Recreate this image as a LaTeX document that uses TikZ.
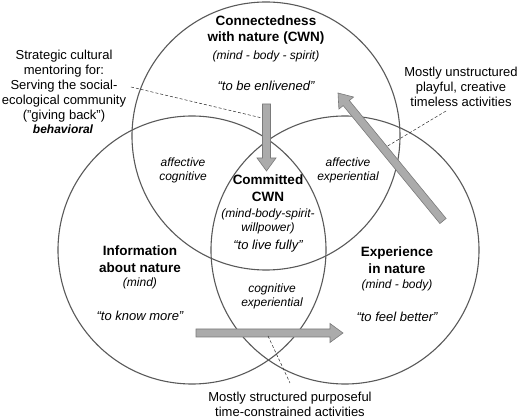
\documentclass[tikz,border=0pt]{standalone}
\usepackage{fontspec}
\setmainfont{Liberation Sans}
\usetikzlibrary{calc}
\newcommand\blkarrow[2]{%
  \filldraw[blk] ($(#1)!4pt!90:(#2)$) -- ($($(#2)!13pt!(#1)$)!4pt!-90:(#1)$)
    -- ($($(#2)!13pt!(#1)$)!9.5pt!-90:(#1)$) -- (#2)
    -- ($($(#2)!13pt!(#1)$)!9.5pt!90:(#1)$) -- ($($(#2)!13pt!(#1)$)!4pt!90:(#1)$)
    -- ($(#1)!4pt!-90:(#2)$) -- cycle;}
\begin{document}
\begin{tikzpicture}[x=1pt,y=-1pt,
 circ/.style={draw=black!65, line width=1.1pt, circle, minimum size=268pt, inner sep=0pt},
 lead/.style={draw=black!85, densely dashed, line width=0.5pt},
 blk/.style={fill=black!33, draw=black!52, line width=0.6pt},
 lbl/.style={align=center, inner sep=0pt, font=\fontsize{13}{15}\selectfont},
 ttl/.style={align=center, inner sep=0pt, font=\fontsize{13.5}{16.5}\selectfont\bfseries},
 sm/.style={align=center, inner sep=0pt, font=\fontsize{12}{14}\selectfont\itshape},
 qt/.style={align=center, inner sep=0pt, font=\fontsize{13}{15}\selectfont\itshape}
]
\useasboundingbox (0,0) rectangle (520,419);
\node[circ] (ctop) at (266,136) {};
\node[circ] (cleft) at (192,250) {};
\node[circ] (cright) at (345,250) {};

% block arrows
\coordinate (v1) at (266.5,104);
\coordinate (v2) at (266.5,171);
\coordinate (d1) at (443,221);
\coordinate (d2) at (338,93);
\coordinate (h1) at (196,333);
\coordinate (h2) at (343,333);
\blkarrow{v1}{v2}
\blkarrow{d1}{d2}
\blkarrow{h1}{h2}

% leader lines
\coordinate (s1) at (131,87);
\coordinate (s2) at (262,118);
\coordinate (u1) at (446,111);
\coordinate (u2) at (386,147);
\coordinate (b1) at (268,336);
\coordinate (b2) at (290,383);
\draw[lead] (s1) -- (s2);
\draw[lead] (u1) -- (u2);
\draw[lead] (b1) -- (b2);

% top circle texts
\node[ttl] (tcwn) at (266,30) {Connectedness\\with nature (CWN)};
\node[sm] (tmbs) at (266,56) {(mind - body - spirit)};
\node[qt] (tenl) at (266,86) {“to be enlivened”};

% left notes
\node[lbl] (strat) at (64,86) {Strategic cultural\\mentoring for:\\Serving the social-\\ecological community\\("giving back")};
\node[sm, font=\fontsize{12}{14}\selectfont\bfseries\itshape] (behav) at (63,129) {behavioral};

% right note
\node[lbl] (unstr) at (461,87) {Mostly unstructured\\playful, creative\\timeless activities};

% intersections
\node[sm] (affc) at (183,170) {affective\\cognitive};
\node[sm] (affe) at (348,170) {affective\\experiential};
\node[ttl] (comm) at (268,188) {Committed\\CWN};
\node[sm] (mbsw) at (268,221) {(mind-body-spirit-\\willpower)};
\node[qt] (live) at (268,246) {“to live fully”};
\node[sm] (cogx) at (272,296) {cognitive\\experiential};

% left circle
\node[ttl] (info) at (140,259) {Information\\about nature};
\node[sm] (mind) at (140,283) {(mind)};
\node[qt] (know) at (140,316) {“to know more”};

% right circle
\node[ttl] (expe) at (397,260) {Experience\\in nature};
\node[sm] (mbod) at (397,285) {(mind - body)};
\node[qt] (feel) at (397,317) {“to feel better”};

% bottom note
\node[lbl] (struc) at (290,404) {Mostly structured purposeful\\time-constrained activities};
\end{tikzpicture}
\end{document}
